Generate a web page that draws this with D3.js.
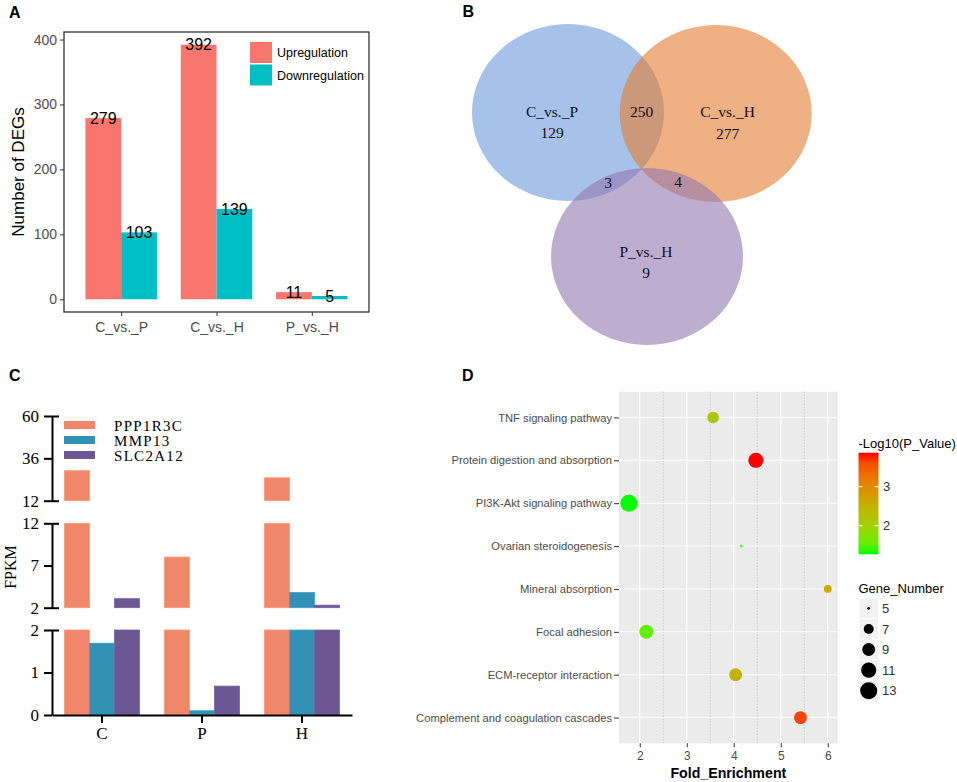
<!DOCTYPE html>
<html>
<head>
<meta charset="utf-8">
<script src="https://cdn.jsdelivr.net/npm/d3@7/dist/d3.min.js"></script>
<style>
  body { margin: 0; background: #ffffff; }
  svg { display: block; }
</style>
</head>
<body>
<svg id="fig" width="957" height="782"></svg>
<script>
// panel A: number of DEGs per comparison
var comparisons = ["C_vs._P", "C_vs._H", "P_vs._H"];
var regulation = ["Upregulation", "Downregulation"];
var upCounts = [279, 392, 11];
var downCounts = [103, 139, 5];

// panel B: venn counts
var vennSets = ["C_vs._P", "C_vs._H", "P_vs._H"];
var vennOnly = [129, 277, 9];
var vennPairs = [250, 3, 4]; // CP&CH, CP&PH, CH&PH

// panel C: FPKM with broken axis
var samples = ["C", "P", "H"];
var genes = ["PPP1R3C", "MMP13", "SLC2A12"];
var ppp1r3c = [29, 8, 25];
var mmp13 = [1.69, 0.1, 3.8];
var slc2a12 = [3.07, 0.68, 2.3];
var fpkmSegments = [[0, 2], [2, 12], [12, 60]];
var fpkmTicks = [[0, 1, 2], [2, 7, 12], [12, 36, 60]];

// panel D: KEGG enrichment
var pathways = [
  "TNF signaling pathway",
  "Protein digestion and absorption",
  "PI3K-Akt signaling pathway",
  "Ovarian steroidogenesis",
  "Mineral absorption",
  "Focal adhesion",
  "ECM-receptor interaction",
  "Complement and coagulation cascades"
];
var foldEnrichment = [3.56, 4.47, 1.77, 4.16, 6.0, 2.14, 4.04, 5.42];
var logP = [2.18, 3.87, 1.27, 1.4, 2.57, 1.53, 2.5, 3.66];
var geneNumber = [8, 11, 13, 5, 6, 10, 9, 9];
var sizeBreaks = [5, 7, 9, 11, 13];
var colorBreaks = [2, 3];
var enrichTicks = [2, 3, 4, 5, 6];
var enrichMinor = [2.5, 3.5, 4.5, 5.5];

var sans = "'Liberation Sans', Arial, sans-serif";
var serif = "'Liberation Serif', 'Times New Roman', serif";

var svg = d3.select("#fig");

var panelLetter = function(t, x, y) {
  svg
    .append("text")
    .attr("x", x)
    .attr("y", y)
    .attr("font-family", sans)
    .attr("font-weight", "bold")
    .attr("font-size", 16)
    .text(t);
};

/* ---------------- A ---------------- */
var drawPanelA = function() {
  var box = { left: 64, top: 32, right: 369, bottom: 312 };
  var maxV = d3.max(upCounts.concat(downCounts));
  var x = d3
    .scalePoint()
    .domain(comparisons)
    .range([box.left, box.right])
    .padding(0.6);
  var y = d3
    .scaleLinear()
    .domain([-0.05 * maxV, maxV * 1.05])
    .range([box.bottom, box.top]);
  var bw = x.step() * 0.375;
  var colors = ["#F8766D", "#00BFC4"];
  var g = svg.append("g");

  var rows = [];
  comparisons.forEach(function(c, i) {
    rows.push({ c: c, k: 0, v: upCounts[i] });
    rows.push({ c: c, k: 1, v: downCounts[i] });
  });

  g.selectAll("rect.bar")
    .data(rows)
    .enter()
    .append("rect")
    .attr("class", "bar")
    .attr("x", function(d) { return x(d.c) - bw + d.k * bw; })
    .attr("y", function(d) { return y(d.v); })
    .attr("width", bw)
    .attr("height", function(d) { return y(0) - y(d.v); })
    .style("fill", function(d) { return colors[d.k]; });

  g.selectAll("text.val")
    .data(rows)
    .enter()
    .append("text")
    .attr("class", "val")
    .attr("x", function(d) { return x(d.c) - bw / 2 + d.k * bw; })
    .attr("y", function(d) { return y(d.v); })
    .attr("dy", "0.36em")
    .attr("text-anchor", "middle")
    .attr("font-family", sans)
    .attr("font-size", 16)
    .text(function(d) { return d.v; });

  var yAxis = g
    .append("g")
    .attr("transform", "translate(" + box.left + ",0)")
    .call(d3.axisLeft(y).tickValues([0, 100, 200, 300, 400]).tickSize(4).tickPadding(3));
  var xAxis = g
    .append("g")
    .attr("transform", "translate(0," + box.bottom + ")")
    .call(d3.axisBottom(x).tickSize(4).tickPadding(6));
  [yAxis, xAxis].forEach(function(a) {
    a.select(".domain").remove();
    a.selectAll("line").attr("stroke", "#333333");
    a.selectAll("text")
      .attr("fill", "#4D4D4D")
      .attr("font-family", sans)
      .attr("font-size", 14);
  });

  g.append("rect")
    .attr("x", box.left)
    .attr("y", box.top)
    .attr("width", box.right - box.left)
    .attr("height", box.bottom - box.top)
    .attr("fill", "none")
    .attr("stroke", "#333333")
    .attr("stroke-width", 1.3);

  g.append("text")
    .attr("transform", "translate(23.5," + (box.top + box.bottom) / 2 + ") rotate(-90)")
    .attr("text-anchor", "middle")
    .attr("font-family", sans)
    .attr("font-size", 17)
    .text("Number of DEGs");

  regulation.forEach(function(r, i) {
    g.append("rect")
      .attr("x", 250)
      .attr("y", 42 + i * 22.5)
      .attr("width", 22)
      .attr("height", 21)
      .style("fill", colors[i]);
    g.append("text")
      .attr("x", 277)
      .attr("y", 57 + i * 22.5)
      .attr("font-family", sans)
      .attr("font-size", 12.5)
      .text(r);
  });
};

/* ---------------- B ---------------- */
var drawPanelB = function() {
  var circles = [
    { cx: 568, cy: 112.5, fill: "#6B99D9" },
    { cx: 715.7, cy: 113.5, fill: "#E47B30" },
    { cx: 647, cy: 256.5, fill: "#9178B1" }
  ];
  var g = svg.append("g");
  g.selectAll("ellipse")
    .data(circles)
    .enter()
    .append("ellipse")
    .attr("cx", function(d) { return d.cx; })
    .attr("cy", function(d) { return d.cy; })
    .attr("rx", 96)
    .attr("ry", 88.5)
    .style("fill", function(d) { return d.fill; })
    .style("fill-opacity", 0.6);

  var labels = [
    { t: vennSets[0], x: 552, y: 116.7 },
    { t: vennOnly[0], x: 552, y: 137.5 },
    { t: vennSets[1], x: 727.5, y: 117.3 },
    { t: vennOnly[1], x: 727.5, y: 139.3 },
    { t: vennSets[2], x: 646, y: 256.7 },
    { t: vennOnly[2], x: 646, y: 278.3 },
    { t: vennPairs[0], x: 641.7, y: 117.3 },
    { t: vennPairs[1], x: 608, y: 188.3 },
    { t: vennPairs[2], x: 678, y: 187.3 }
  ];
  g.selectAll("text")
    .data(labels)
    .enter()
    .append("text")
    .attr("x", function(d) { return d.x; })
    .attr("y", function(d) { return d.y; })
    .attr("text-anchor", "middle")
    .attr("font-family", serif)
    .attr("font-size", 15.5)
    .attr("fill", "#111111")
    .text(function(d) { return d.t; });
};

/* ---------------- C ---------------- */
var drawPanelC = function() {
  var g = svg.append("g");
  var axisX = 52;
  var colors = ["#F0876A", "#3290B2", "#6C5694"];
  var series = [ppp1r3c, mmp13, slc2a12];
  var segRanges = [[715, 630], [607.7, 523.3], [500.7, 416]];
  var x = d3
    .scaleBand()
    .domain(samples)
    .range([52, 352])
    .padding(0);
  var bw = 25;

  fpkmSegments.forEach(function(seg, s) {
    var y = d3.scaleLinear().domain(seg).range(segRanges[s]);
    var rows = [];
    samples.forEach(function(smp, i) {
      series.forEach(function(vals, k) {
        if (vals[i] > seg[0]) {
          rows.push({ s: smp, k: k, top: Math.min(vals[i], seg[1]) });
        }
      });
    });
    g.selectAll("rect.seg" + s)
      .data(rows)
      .enter()
      .append("rect")
      .attr("class", "seg" + s)
      .attr("x", function(d) { return x(d.s) + x.bandwidth() / 2 - 1.5 * bw + d.k * bw; })
      .attr("y", function(d) { return y(d.top); })
      .attr("width", bw)
      .attr("height", function(d) { return y(seg[0]) - y(d.top); })
      .style("fill", function(d) { return colors[d.k]; })
      .style("stroke", function(d) { return d3.color(colors[d.k]).brighter(0.35); })
      .style("stroke-width", 0.8);

    var ax = g
      .append("g")
      .attr("transform", "translate(" + axisX + ",0)")
      .call(
        d3
          .axisLeft(y)
          .tickValues(fpkmTicks[s])
          .tickFormat(d3.format("d"))
          .tickSize(8)
          .tickSizeOuter(0)
          .tickPadding(5)
      );
    ax.select(".domain").attr("stroke", "#000").attr("stroke-width", 2);
    ax.selectAll(".tick line")
      .attr("stroke", "#000")
      .attr("stroke-width", 2)
      .attr("x1", function(d) { return d !== 0 && (d === seg[0] || d === seg[1]) ? 7 : 0; });
    ax.selectAll("text")
      .attr("fill", "#000")
      .attr("font-family", serif)
      .attr("font-size", 17);
  });

  var xAxis = g
    .append("g")
    .attr("transform", "translate(0,715)")
    .call(d3.axisBottom(x).tickSize(8).tickSizeOuter(0).tickPadding(4));
  xAxis.select(".domain").attr("stroke", "#000").attr("stroke-width", 2);
  xAxis.selectAll(".tick line").attr("stroke", "#000").attr("stroke-width", 2);
  xAxis.selectAll("text")
    .attr("fill", "#000")
    .attr("font-family", serif)
    .attr("font-size", 17);

  g.append("text")
    .attr("transform", "translate(15.5,567) rotate(-90)")
    .attr("text-anchor", "middle")
    .attr("font-family", serif)
    .attr("font-size", 16)
    .text("FPKM");

  genes.forEach(function(gn, i) {
    g.append("rect")
      .attr("x", 64)
      .attr("y", 421 + i * 15)
      .attr("width", 31)
      .attr("height", 8)
      .style("fill", colors[i]);
    g.append("text")
      .attr("x", 114)
      .attr("y", 430.5 + i * 15)
      .attr("font-family", serif)
      .attr("font-size", 15)
      .attr("letter-spacing", 1.3)
      .text(gn);
  });
};

/* ---------------- D ---------------- */
var drawPanelD = function() {
  var box = { left: 619, top: 391.7, right: 837.7, bottom: 743.3 };
  var g = svg.append("g");
  var ext = d3.extent(foldEnrichment);
  var pad = (ext[1] - ext[0]) * 0.05;
  var x = d3
    .scaleLinear()
    .domain([ext[0] - pad, ext[1] + pad])
    .range([box.left, box.right]);
  var y = d3
    .scalePoint()
    .domain(pathways)
    .range([box.top, box.bottom])
    .padding(0.6);
  var color = d3
    .scaleLinear()
    .domain(d3.extent(logP))
    .range(["#00FF00", "#FF0000"])
    .interpolate(d3.interpolateLab);
  var sizeExt = d3.extent(geneNumber);
  var sq = d3.scaleSqrt().domain([0, sizeExt[1] - sizeExt[0]]).range([0, 7.1]);
  var radius = function(v) { return 1.42 + sq(v - sizeExt[0]); };

  g.append("rect")
    .attr("x", box.left)
    .attr("y", box.top)
    .attr("width", box.right - box.left)
    .attr("height", box.bottom - box.top)
    .style("fill", "#EBEBEB");

  g.selectAll("line.minor")
    .data(enrichMinor)
    .enter()
    .append("line")
    .attr("class", "minor")
    .attr("x1", function(d) { return x(d); })
    .attr("x2", function(d) { return x(d); })
    .attr("y1", box.top)
    .attr("y2", box.bottom)
    .attr("stroke", "#BEBEBE")
    .attr("stroke-width", 1)
    .attr("stroke-dasharray", "1,2");
  g.selectAll("line.vmaj")
    .data(enrichTicks)
    .enter()
    .append("line")
    .attr("class", "vmaj")
    .attr("x1", function(d) { return x(d); })
    .attr("x2", function(d) { return x(d); })
    .attr("y1", box.top)
    .attr("y2", box.bottom)
    .attr("stroke", "#FFFFFF")
    .attr("stroke-width", 1.1);
  g.selectAll("line.hmaj")
    .data(pathways)
    .enter()
    .append("line")
    .attr("class", "hmaj")
    .attr("x1", box.left)
    .attr("x2", box.right)
    .attr("y1", function(d) { return y(d); })
    .attr("y2", function(d) { return y(d); })
    .attr("stroke", "#FFFFFF")
    .attr("stroke-width", 1.1);

  var pts = pathways.map(function(p, i) {
    return { p: p, fe: foldEnrichment[i], lp: logP[i], n: geneNumber[i] };
  });
  g.selectAll("circle.pt")
    .data(pts)
    .enter()
    .append("circle")
    .attr("class", "pt")
    .attr("cx", function(d) { return x(d.fe); })
    .attr("cy", function(d) { return y(d.p); })
    .attr("r", function(d) { return radius(d.n); })
    .style("fill", function(d) { return color(d.lp); });

  var yAxis = g
    .append("g")
    .attr("transform", "translate(" + box.left + ",0)")
    .call(d3.axisLeft(y).tickSize(5).tickPadding(2));
  var xAxis = g
    .append("g")
    .attr("transform", "translate(0," + box.bottom + ")")
    .call(
      d3
        .axisBottom(x)
        .tickValues(enrichTicks)
        .tickFormat(d3.format("d"))
        .tickSize(4)
        .tickPadding(4)
    );
  [yAxis, xAxis].forEach(function(a) {
    a.select(".domain").remove();
    a.selectAll("line").attr("stroke", "#333333");
    a.selectAll("text")
      .attr("fill", "#4D4D4D")
      .attr("font-family", sans)
      .attr("font-size", 12);
  });
  yAxis.selectAll("text").attr("font-size", 11.2);

  g.append("text")
    .attr("x", (box.left + box.right) / 2)
    .attr("y", 778)
    .attr("text-anchor", "middle")
    .attr("font-family", sans)
    .attr("font-weight", "bold")
    .attr("font-size", 14.2)
    .text("Fold_Enrichment");

  // colour bar
  var cb = { x: 858.5, w: 20, top: 452.7, bottom: 554.3 };
  var cy = d3.scaleLinear().domain(color.domain()).range([cb.bottom, cb.top]);
  var grad = svg
    .append("defs")
    .append("linearGradient")
    .attr("id", "cbGrad")
    .attr("x1", 0)
    .attr("y1", 1)
    .attr("x2", 0)
    .attr("y2", 0);
  d3.range(0, 1.0001, 0.1).forEach(function(t) {
    var v = color.domain()[0] + t * (color.domain()[1] - color.domain()[0]);
    grad.append("stop")
      .attr("offset", t)
      .attr("stop-color", color(v));
  });
  g.append("text")
    .attr("x", cb.x)
    .attr("y", 448)
    .attr("font-family", sans)
    .attr("font-size", 13)
    .text("-Log10(P_Value)");
  g.append("rect")
    .attr("x", cb.x)
    .attr("y", cb.top)
    .attr("width", cb.w)
    .attr("height", cb.bottom - cb.top)
    .style("fill", "url(#cbGrad)");
  colorBreaks.forEach(function(b) {
    [[cb.x, cb.x + 4], [cb.x + cb.w - 4, cb.x + cb.w]].forEach(function(seg) {
      g.append("line")
        .attr("x1", seg[0])
        .attr("x2", seg[1])
        .attr("y1", cy(b))
        .attr("y2", cy(b))
        .attr("stroke", "#FFFFFF")
        .attr("stroke-width", 1);
    });
    g.append("text")
      .attr("x", cb.x + cb.w + 4.5)
      .attr("y", cy(b))
      .attr("dy", "0.36em")
      .attr("font-family", sans)
      .attr("font-size", 13)
      .attr("fill", "#333333")
      .text(b);
  });

  // size legend
  g.append("text")
    .attr("x", cb.x)
    .attr("y", 593)
    .attr("font-family", sans)
    .attr("font-size", 13)
    .text("Gene_Number");
  sizeBreaks.forEach(function(b, i) {
    var ky = 598 + i * 20.6;
    g.append("rect")
      .attr("x", cb.x + 0.5)
      .attr("y", ky)
      .attr("width", 19.5)
      .attr("height", 20.6)
      .style("fill", "#F2F2F2")
      .style("stroke", "#FFFFFF")
      .style("stroke-width", 1);
    g.append("circle")
      .attr("cx", cb.x + 10.2)
      .attr("cy", ky + 10.3)
      .attr("r", radius(b))
      .style("fill", "#000000");
    g.append("text")
      .attr("x", cb.x + 23.5)
      .attr("y", ky + 10.3)
      .attr("dy", "0.36em")
      .attr("font-family", sans)
      .attr("font-size", 13)
      .attr("fill", "#333333")
      .text(b);
  });
};

panelLetter("A", 9, 18);
panelLetter("B", 462.5, 17);
panelLetter("C", 9, 381);
panelLetter("D", 462, 381);
drawPanelA();
drawPanelB();
drawPanelC();
drawPanelD();
</script>
</body>
</html>
